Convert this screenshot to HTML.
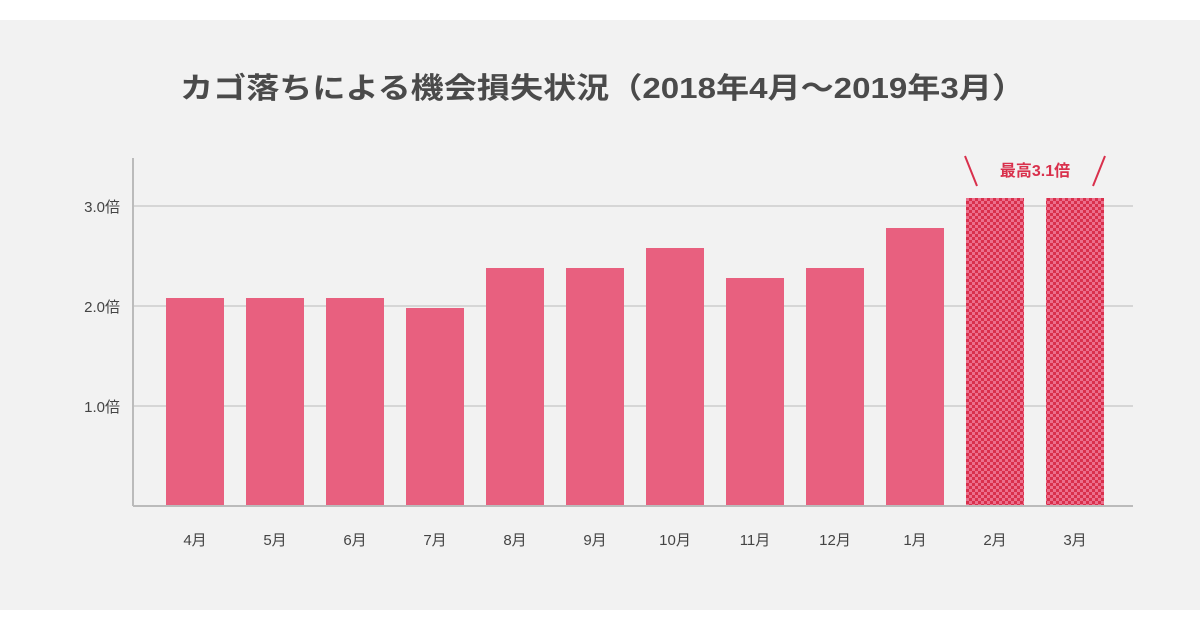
<!DOCTYPE html>
<html><head><meta charset="utf-8"><style>
body{margin:0;width:1200px;height:630px;background:#fff;overflow:hidden;font-family:"Liberation Sans","Noto Sans CJK JP",sans-serif}
</style></head><body>
<svg width="1200" height="630">
<defs>
<pattern id="chk" width="6" height="6" patternUnits="userSpaceOnUse">
<rect width="6" height="6" fill="#d9304c"/>
<rect width="3" height="3" fill="#ec6f8c"/>
<rect x="3" y="3" width="3" height="3" fill="#ec6f8c"/>
</pattern>
</defs>
<rect x="0" y="20" width="1200" height="590" fill="#f2f2f2"/>
<text x="180" y="98" font-size="29" fill="#4a4a4a" font-weight="bold" textLength="845" lengthAdjust="spacingAndGlyphs">カゴ落ちによる機会損失状況（2018年4月〜2019年3月）</text>
<g id="grid"></g><g id="bars"></g><g id="xl"></g>
<line x1="133" y1="158" x2="133" y2="506" stroke="#bbb" stroke-width="2"/>
<line x1="133" y1="506" x2="1133" y2="506" stroke="#bbb" stroke-width="2"/>
<g>
<line x1="965" y1="156" x2="977" y2="186" stroke="#d9304c" stroke-width="2"/>
<line x1="1105" y1="156" x2="1093" y2="186" stroke="#d9304c" stroke-width="2"/>
<text x="1035" y="176" text-anchor="middle" font-size="16" font-weight="bold" fill="#d9304c">最高3.1倍</text>
</g>
</svg>
<script>
const categories=["4月","5月","6月","7月","8月","9月","10月","11月","12月","1月","2月","3月"];
const values=[2.1,2.1,2.1,2.0,2.4,2.4,2.6,2.3,2.4,2.8,3.1,3.1];
const highlighted=[false,false,false,false,false,false,false,false,false,false,true,true];
const yTicks=[1,2,3];
const yTickLabels=["1.0倍","2.0倍","3.0倍"];
const NS="http://www.w3.org/2000/svg";
const y=v=>506-v*100;
const x=i=>195+i*80;
function mk(t,a,p){const e=document.createElementNS(NS,t);for(const k in a)e.setAttribute(k,a[k]);p.appendChild(e);return e;}
const grid=document.getElementById('grid'),bars=document.getElementById('bars'),xl=document.getElementById('xl');
yTicks.forEach((v,i)=>{
 const l=mk('line',{x1:133,x2:1133,y1:y(v),y2:y(v),stroke:'#ccc','stroke-width':1.5},grid);
 
 
 const t=mk('text',{x:120,y:y(v)+6,'text-anchor':'end','font-size':15,fill:'#444'},grid);
 t.textContent=yTickLabels[i];
 
 
});
categories.forEach((c,i)=>{
 const top=y(values[i])+2;
 const r=mk('rect',{x:x(i)-29,y:top,width:58,height:506-top,fill:highlighted[i]?'url(#chk)':'#e8607f'},bars);
 
 
 const t=mk('text',{x:x(i),y:545,'text-anchor':'middle','font-size':15,fill:'#444'},xl);
 t.textContent=c;
 
 
});
</script>
</body></html>
